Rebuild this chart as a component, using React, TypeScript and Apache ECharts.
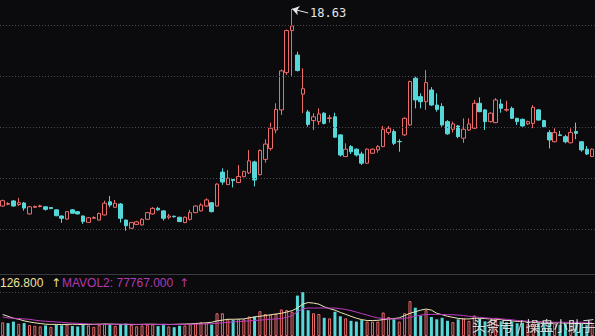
import React, { useEffect, useRef } from 'react';
import * as echarts from 'echarts';

// ---- price data (index = trading day) ----
const opens = [10.90,10.97,11.10,10.96,11.02,10.59,10.85,10.88,10.87,10.84,10.75,10.51,10.39,10.75,10.68,10.51,10.26,10.42,10.35,10.55,11.07,10.85,10.98,10.35,10.03,10.18,10.16,10.38,10.59,10.81,10.71,10.46,10.50,10.46,10.25,10.38,10.64,10.71,10.90,11.03,10.90,12.23,11.74,11.94,11.82,12.05,12.20,12.63,12.13,12.73,13.16,13.88,14.67,16.13,17.78,16.82,15.29,14.59,14.25,14.21,14.54,14.33,14.40,13.69,12.84,13.23,13.13,12.94,12.58,12.97,13.10,13.23,13.78,13.82,13.43,13.69,14.08,15.91,15.19,14.99,15.45,14.86,14.80,14.21,13.91,14.04,13.56,13.88,13.95,14.93,14.67,14.21,14.17,14.90,14.66,14.73,14.34,14.30,14.12,14.14,14.67,14.25,13.78,13.42,13.69,13.62,13.38,13.82,13.42,13.13,12.84];
const closes = [11.11,11.00,10.90,11.03,10.82,10.87,10.88,10.91,10.77,10.80,10.52,10.42,10.68,10.62,10.59,10.29,10.44,10.45,10.61,11.01,10.94,11.01,10.42,10.13,10.25,10.28,10.38,10.64,10.81,10.75,10.42,10.51,10.48,10.29,10.46,10.64,10.90,10.94,11.14,10.68,11.76,11.84,11.99,11.90,12.06,12.25,12.67,11.92,13.08,13.33,13.95,14.69,16.20,17.78,17.96,16.21,15.50,14.10,14.40,14.51,14.14,14.36,13.60,12.90,13.13,13.03,12.90,12.58,13.13,13.13,13.23,13.91,13.95,13.36,13.42,14.34,15.78,15.06,14.99,15.74,14.86,14.69,14.08,13.73,14.12,13.62,13.91,14.12,14.93,14.60,14.21,14.54,15.06,14.73,14.69,14.34,14.21,14.04,14.21,14.77,14.27,14.01,13.49,13.78,13.67,13.42,13.78,13.75,13.10,12.94,13.13];
const lows = [10.88,10.93,10.88,10.90,10.72,10.57,10.82,10.85,10.72,10.78,10.50,10.24,10.37,10.60,10.57,10.20,10.24,10.40,10.33,10.53,10.85,10.83,10.25,9.93,10.00,10.15,10.14,10.36,10.57,10.72,10.33,10.38,10.45,10.27,10.23,10.33,10.62,10.69,10.87,10.65,10.88,11.73,11.73,11.63,11.80,12.03,12.16,11.67,12.10,12.60,13.07,13.75,14.47,16.04,16.00,16.18,14.54,14.01,13.88,14.08,14.10,14.17,13.58,12.84,12.82,12.94,12.84,12.51,12.56,12.95,12.99,13.21,13.69,13.29,13.03,13.65,14.04,14.73,14.73,14.67,14.82,14.60,14.01,13.69,13.78,13.56,13.38,13.85,13.93,14.58,13.88,14.18,14.15,14.56,14.60,14.31,14.08,14.01,14.08,13.95,14.25,13.99,13.16,13.40,13.65,13.36,13.36,13.52,13.03,12.90,12.82];
const highs = [11.15,11.05,11.14,11.22,11.06,10.90,10.92,10.95,10.90,10.86,10.77,10.53,10.70,10.78,10.70,10.53,10.47,10.50,10.64,11.11,11.29,11.14,11.02,10.37,10.28,10.32,10.42,10.67,10.86,10.87,10.74,10.59,10.52,10.48,10.49,10.75,10.93,11.01,11.20,11.06,11.79,12.38,12.31,11.96,12.51,12.29,13.10,12.68,13.12,13.52,14.17,14.93,16.25,17.82,18.63,16.95,16.30,14.67,14.54,14.73,14.58,14.47,14.56,13.72,13.36,13.29,13.16,13.03,13.16,13.16,13.29,14.04,14.04,13.91,13.52,14.38,15.82,15.97,15.32,16.23,15.56,15.32,14.93,14.27,14.21,14.08,14.34,14.34,15.06,15.16,14.70,14.58,15.13,15.09,15.03,14.80,14.36,14.33,14.25,14.86,14.70,14.28,13.88,13.95,13.85,13.69,13.95,14.17,13.45,13.25,13.16];

// ---- volume data ----
const volumes = [77600,73300,81900,69000,73300,62000,58000,55000,60000,52000,63000,61000,66000,57000,54000,65000,60000,52000,63000,70000,66000,58000,68000,70000,62000,55000,60000,64000,66000,56000,62000,54000,50000,58000,60000,67000,73000,77600,73000,64600,129300,129300,96100,90500,96100,94800,110800,110800,140900,125000,120700,125000,150900,147800,137900,229700,248700,146500,129300,125000,103400,100400,137900,112100,100400,86200,81900,90500,81900,81900,81900,133600,107800,94800,81900,129300,198300,160800,116400,146500,107800,94800,103400,86200,78900,94800,100400,86200,116400,100400,83200,78900,103400,83200,78900,81900,72000,74600,69000,83200,78900,72000,78900,72000,64700,69000,74600,78900,72000,64700,64700];
// moving averages of volume, in thousands
const mavol1K = [122,112,101,95,86,80,75,71,67,66,66,65,66,67,66,65,65,66,67,68,68,67,66,66,65,65,66,67,67,66,66,65,66,67,68,69,71,73,75,78,86,90,95,95,96,97,103,108,112,116,121,125,129,136,144,159,181,190,187,181,166,155,147,134,123,112,101,93,88,88,89,93,97,99,103,116,129,138,147,153,147,129,121,112,106,100,97,97,100,101,99,97,95,93,90,86,83,82,80,80,80,78,78,75,75,73,73,73,72,72,71];
const mavol2K = [108,103,101,99,97,95,90,86,84,82,80,78,75,73,72,70,69,67,67,66,66,66,67,67,67,66,66,66,65,65,66,66,66,66,66,67,67,68,69,70,73,75,78,80,82,84,86,88,90,93,95,97,99,106,116,138,155,159,159,159,159,159,159,155,151,144,136,127,119,110,103,99,97,97,97,99,106,112,119,122,123,123,122,121,121,119,116,112,108,106,103,101,99,97,95,92,88,86,84,82,81,80,79,78,78,78,78,78,78,78,77.767];

const priceGridLevels = [10, 12, 14, 16, 18];
const peakIndex = 54;
const mavol1Tail = '126.800';

const BG = '#0b0a0d';
const RED = '#ec6b6b';
const CYAN = '#56d8d8';

export default function App() {
  const ref = useRef<HTMLDivElement>(null);
  useEffect(() => {
    document.body.style.margin = '0';
    document.body.style.background = BG;
    const chart = echarts.init(ref.current!, null, { renderer: 'svg' });
    const cats = opens.map((_, i) => String(i));
    const candle = opens.map((o, i) => [o, closes[i], lows[i], highs[i]]);
    const volData = volumes.map((v, i) => {
      const prev = i === 0 ? opens[0] : closes[i - 1];
      const up = closes[i] >= prev;
      return {
        value: v,
        itemStyle: up
          ? { color: BG, borderColor: RED, borderWidth: 1 }
          : { color: CYAN, borderColor: CYAN, borderWidth: 0 },
      };
    });
    const ma1 = mavol1K.map((v) => v * 1000);
    const ma2 = mavol2K.map((v) => v * 1000);
    const gridLeft = -3.44;
    const gridWidth = 598.3;

    const gridLines: any[] = priceGridLevels.map((lv) => ({
      yAxis: lv,
      symbol: 'none',
      label: { show: false },
      lineStyle: { type: [1, 2], color: '#4a4a50', width: 1 },
    }));
    const peakLabel = highs[peakIndex].toFixed(2);
    const arrowLabel = { show: true, position: 'end', formatter: peakLabel, color: '#e6e6e6', fontSize: 12, fontFamily: 'DejaVu Sans Mono, monospace', distance: 2 };
    const arrowLine = [
      {
        coord: [peakIndex, highs[peakIndex]],
        symbol: 'arrow',
        symbolSize: 7,
        lineStyle: { color: '#e6e6e6', width: 1, type: 'solid' },
        label: arrowLabel,
      },
      {
        coord: [peakIndex + 3, 18.47],
        symbol: 'none',
        label: arrowLabel,
      },
    ];

    chart.setOption({
      animation: false,
      backgroundColor: BG,
      grid: [
        { left: gridLeft, width: gridWidth, top: 2, height: 252.5 },
        { left: gridLeft, width: gridWidth, top: 292, height: 58 },
      ],
      xAxis: [
        { type: 'category', data: cats, gridIndex: 0, boundaryGap: true, show: false },
        { type: 'category', data: cats, gridIndex: 1, boundaryGap: true, show: false },
      ],
      yAxis: [
        { type: 'value', gridIndex: 0, min: 9, max: 18.9, show: false, splitLine: { show: false } },
        {
          type: 'value', gridIndex: 1, min: 0, max: 250000, interval: 250000,
          axisLine: { show: false }, axisTick: { show: false }, axisLabel: { show: false },
          splitLine: { show: true, lineStyle: { type: [1, 2], color: '#4a4a50', width: 1 } },
        },
      ],
      series: [
        {
          type: 'candlestick',
          xAxisIndex: 0,
          yAxisIndex: 0,
          data: candle,
          barWidth: 4,
          itemStyle: {
            color: BG,
            color0: CYAN,
            borderColor: RED,
            borderColor0: CYAN,
            borderWidth: 1,
          },
          markLine: {
            silent: true,
            symbol: 'none',
            animation: false,
            label: { show: false },
            data: [...gridLines, arrowLine],
          },
        },
        {
          type: 'bar',
          xAxisIndex: 1,
          yAxisIndex: 1,
          data: volData,
          barWidth: 3,
        },
        {
          type: 'line', xAxisIndex: 1, yAxisIndex: 1, data: ma1, symbol: 'none', smooth: false,
          lineStyle: { color: '#ece8b8', width: 1 },
        },
        {
          type: 'line', xAxisIndex: 1, yAxisIndex: 1, data: ma2, symbol: 'none', smooth: false,
          lineStyle: { color: '#c03cc0', width: 1 },
        },
      ],
      graphic: [
        { type: 'line', shape: { x1: 0, y1: 274.5, x2: 595, y2: 274.5 }, style: { stroke: '#3a3a42', lineWidth: 1 } },
        { type: 'text', x: 0, y: 283, style: { text: mavol1Tail, fill: '#e8e2a0', font: '12px "Liberation Sans", Arial, sans-serif', verticalAlign: 'middle' } },
        { type: 'text', x: 51, y: 283, style: { text: '↑', fill: '#e8e2a0', font: '12px "DejaVu Sans", sans-serif', verticalAlign: 'middle' } },
        { type: 'text', x: 62, y: 283, style: { text: `MAVOL2: ${ma2[ma2.length - 1].toFixed(3)}`, fill: '#b13ab1', font: '12px "Liberation Sans", Arial, sans-serif', verticalAlign: 'middle' } },
        { type: 'text', x: 179, y: 283, style: { text: '↑', fill: '#b13ab1', font: '12px "DejaVu Sans", sans-serif', verticalAlign: 'middle' } },
        {
          type: 'text', x: 472, y: 325, z: 100,
          style: {
            text: '头条号 / 操盘小助手', fill: 'rgba(235,235,235,0.85)',
            font: '14px "Noto Sans CJK SC", sans-serif', verticalAlign: 'middle',
            textShadowColor: 'rgba(0,0,0,0.6)', textShadowBlur: 2,
          },
        },
      ],
    });
    return () => chart.dispose();
  }, []);
  return <div ref={ref} style={{ position: 'fixed', left: 0, top: 0, width: 595, height: 336 }} />;
}
